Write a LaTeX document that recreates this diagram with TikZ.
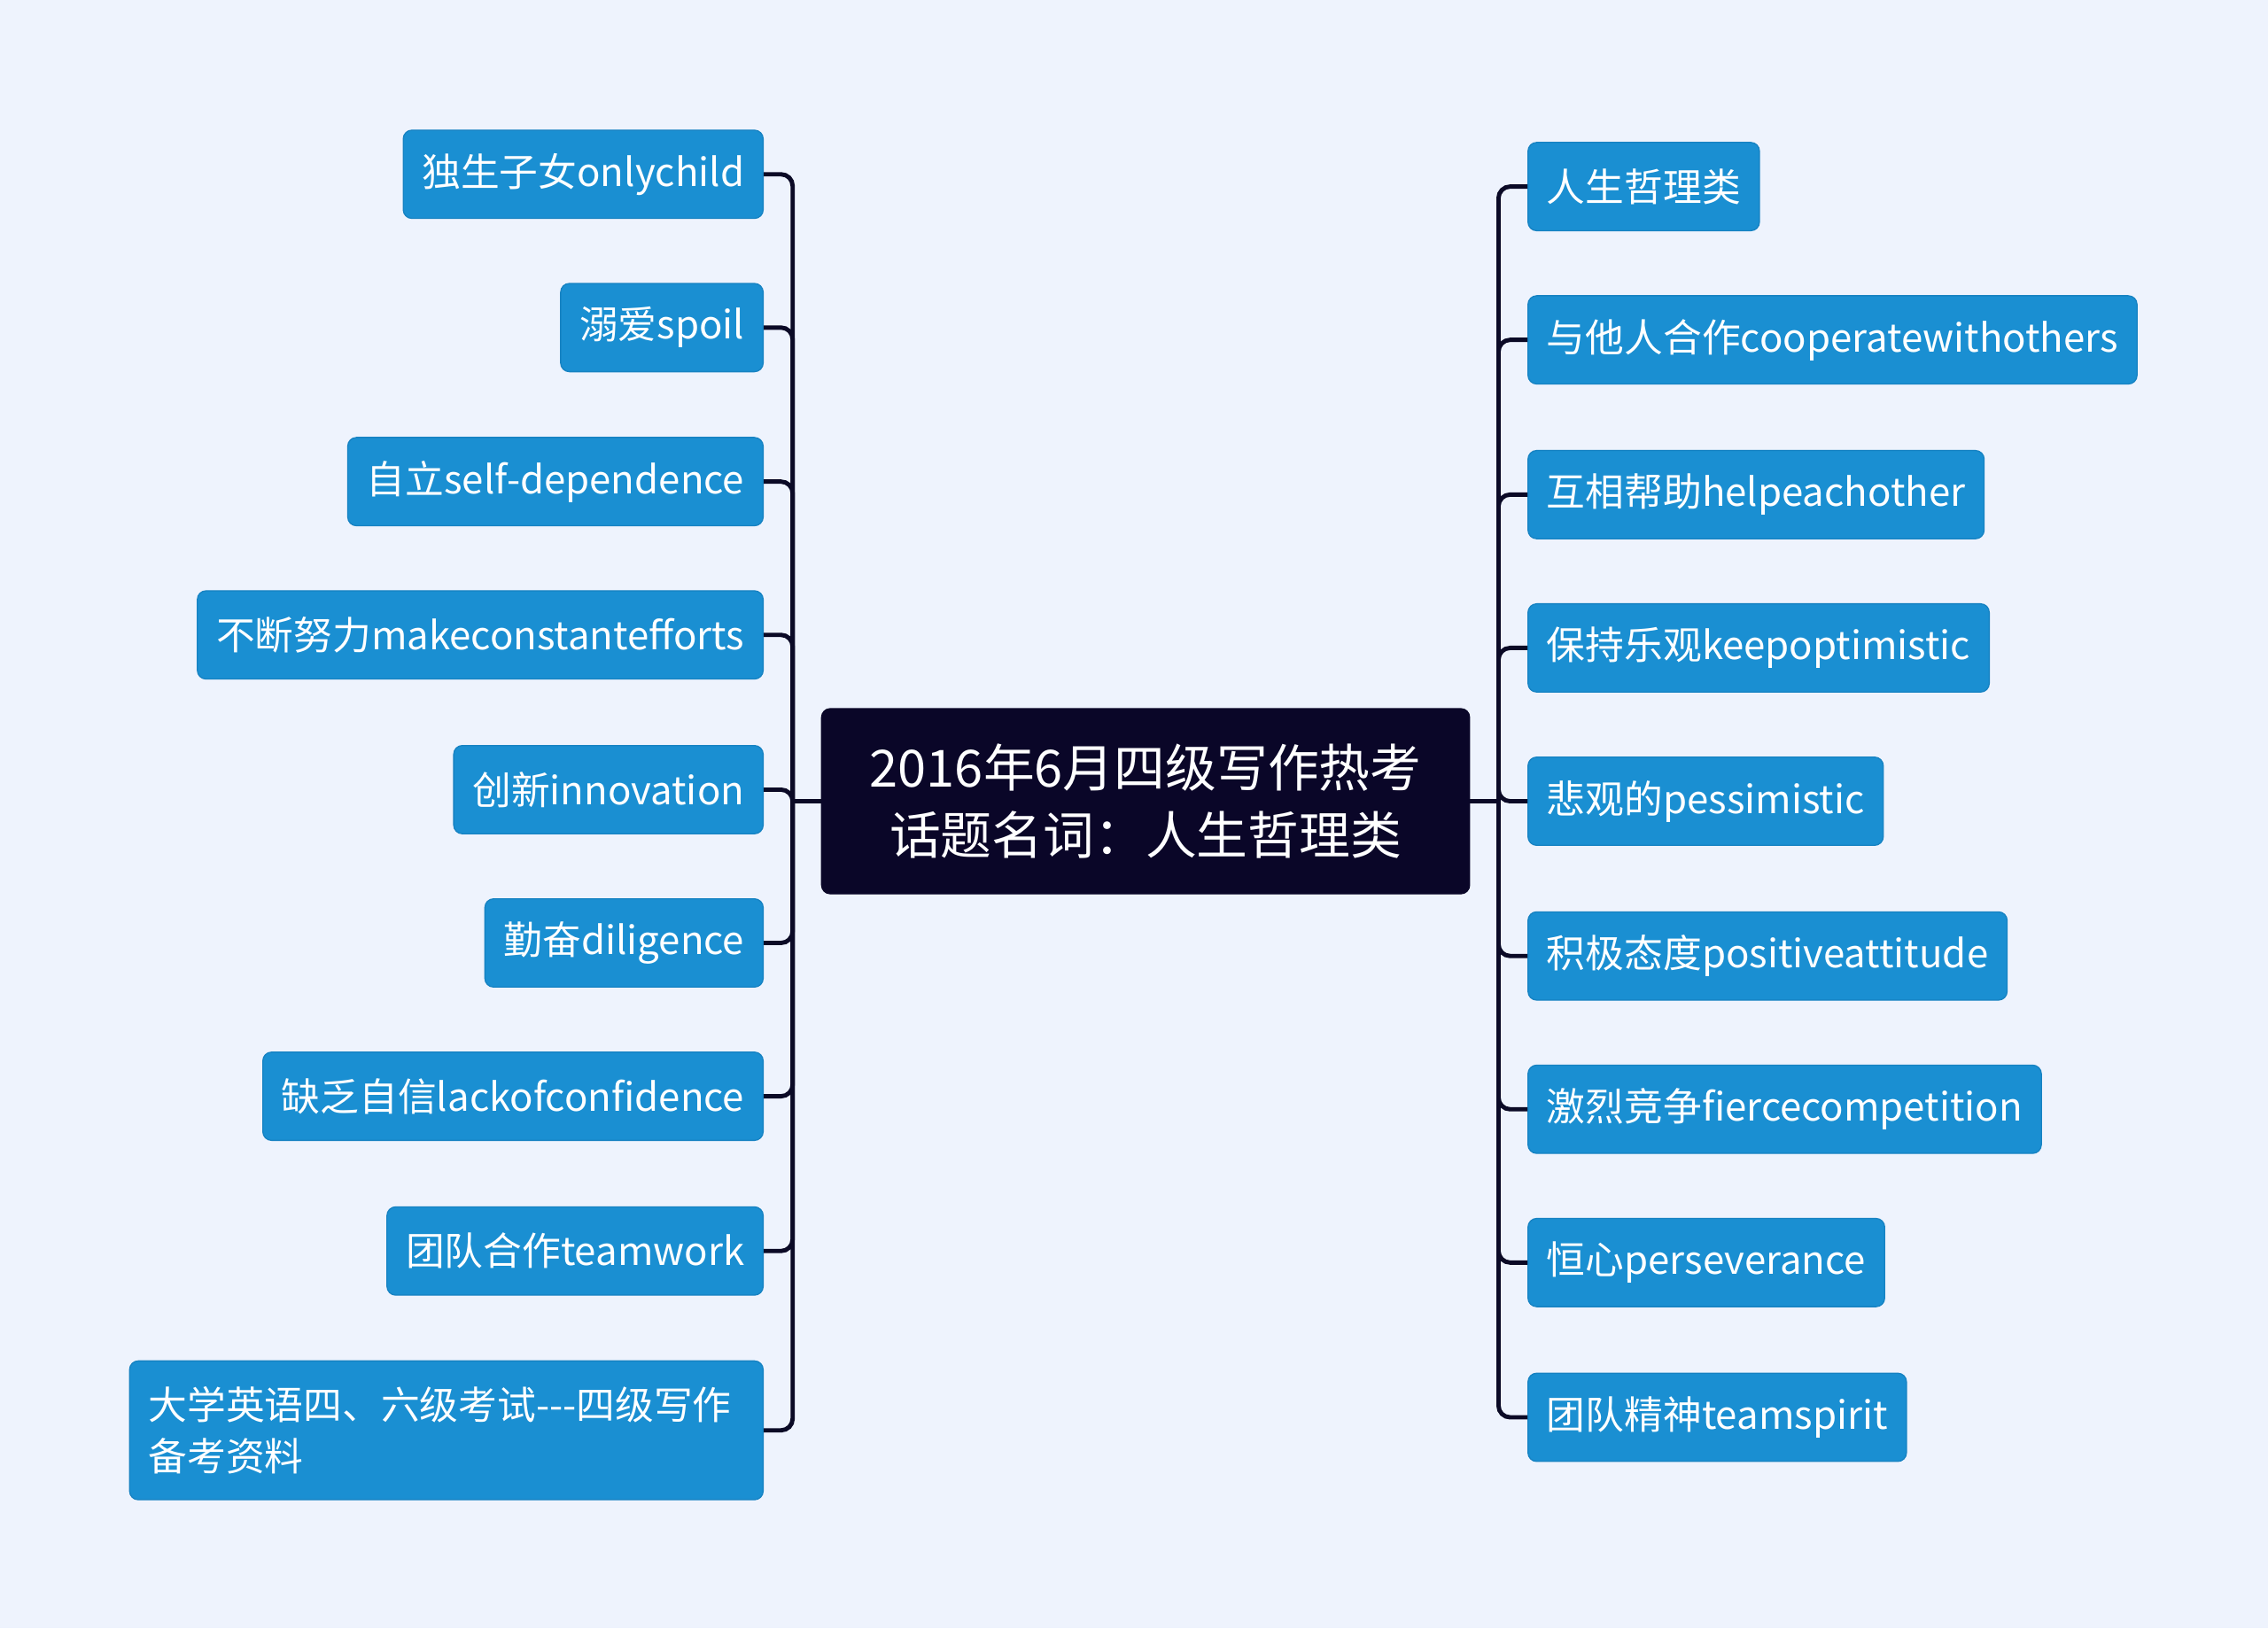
\documentclass[tikz,border=0pt]{standalone}
\usepackage{fontspec}
\setmainfont{Noto Sans CJK SC}
\usepackage{tikz}
\usetikzlibrary{positioning}
\definecolor{bgBlue}{HTML}{EEF3FD}
\definecolor{leafBlue}{HTML}{1A8FD2}
\definecolor{leafEdge}{HTML}{1682C2}
\definecolor{rootNavy}{HTML}{0A0628}
\definecolor{linkNavy}{HTML}{0B0A26}
\tikzset {
    style Root/.style={
        fill=rootNavy,
        draw=rootNavy,
        text=white,
        rectangle, % the central topic
        rounded corners=3pt,
        minimum width=224pt,
        minimum height=64pt,
        align=center,
        font=\fontsize{17.7pt}{23.5pt}\selectfont,
    },
    style Leaf/.style={
        fill=leafBlue,
        draw=leafEdge,
        thin,
        text=white,
        rectangle, % one entry
        rounded corners=3pt,
        inner xsep=6.5pt,
        minimum height=30.5pt,
        align=left,
        font=\fontsize{13.4pt}{17.5pt}\selectfont,
    },
    style Link/.style={
        draw=linkNavy,
        line width=1.5pt,
        rounded corners=4pt,
    },
}

\begin{document}
\begin{tikzpicture}[x=0.5pt, y=-0.5pt]
        \fill[bgBlue] (0,0) rectangle (1568,1126);
        \useasboundingbox (0,0) rectangle (1568,1126);

        \node[style Root] at (792, 554) (root) {2016年6月四级写作热考\\话题名词：人生哲理类};

        % left side
        \node[style Leaf, anchor=east] at (528, 120.5) (onlyChild) {独生子女onlychild};
        \node[style Leaf, anchor=east] at (528, 226.5) (spoil) {溺爱spoil};
        \node[style Leaf, anchor=east] at (528, 333) (selfDep) {自立self-dependence};
        \node[style Leaf, anchor=east] at (528, 439) (efforts) {不断努力makeconstantefforts};
        \node[style Leaf, anchor=east] at (528, 546) (innovation) {创新innovation};
        \node[style Leaf, anchor=east] at (528, 652) (diligence) {勤奋diligence};
        \node[style Leaf, anchor=east] at (528, 758) (noConf) {缺乏自信lackofconfidence};
        \node[style Leaf, anchor=east] at (528, 865) (teamwork) {团队合作teamwork};
        \node[style Leaf, anchor=east, minimum height=48pt, text width=206pt] at (528, 989) (cetWriting)
            {大学英语四、六级考试-{}-{}-四级写作\\备考资料};

        % right side
        \node[style Leaf, anchor=west] at (1056, 129) (philosophy) {人生哲理类};
        \node[style Leaf, anchor=west] at (1056, 235) (cooperate) {与他人合作cooperatewithothers};
        \node[style Leaf, anchor=west] at (1056, 342) (helpEach) {互相帮助helpeachother};
        \node[style Leaf, anchor=west] at (1056, 448) (optimistic) {保持乐观keepoptimistic};
        \node[style Leaf, anchor=west] at (1056, 554) (pessimistic) {悲观的pessimistic};
        \node[style Leaf, anchor=west] at (1056, 661) (attitude) {积极态度positiveattitude};
        \node[style Leaf, anchor=west] at (1056, 767) (competition) {激烈竞争fiercecompetition};
        \node[style Leaf, anchor=west] at (1056, 873) (perseverance) {恒心perseverance};
        \node[style Leaf, anchor=west] at (1056, 980) (teamSpirit) {团队精神teamspirit};

        \coordinate (leftJoin) at (548, 554);
        \coordinate (rightJoin) at (1036, 554);

        \draw[style Link] (root.west) -- (leftJoin);
        \draw[style Link] (root.east) -- (rightJoin);

        \draw[style Link] (leftJoin) |- (onlyChild.east);
        \draw[style Link] (leftJoin) |- (spoil.east);
        \draw[style Link] (leftJoin) |- (selfDep.east);
        \draw[style Link] (leftJoin) |- (efforts.east);
        \draw[style Link] (leftJoin) |- (innovation.east);
        \draw[style Link] (leftJoin) |- (diligence.east);
        \draw[style Link] (leftJoin) |- (noConf.east);
        \draw[style Link] (leftJoin) |- (teamwork.east);
        \draw[style Link] (leftJoin) |- (cetWriting.east);

        \draw[style Link] (rightJoin) |- (philosophy.west);
        \draw[style Link] (rightJoin) |- (cooperate.west);
        \draw[style Link] (rightJoin) |- (helpEach.west);
        \draw[style Link] (rightJoin) |- (optimistic.west);
        \draw[style Link] (rightJoin) |- (pessimistic.west);
        \draw[style Link] (rightJoin) |- (attitude.west);
        \draw[style Link] (rightJoin) |- (competition.west);
        \draw[style Link] (rightJoin) |- (perseverance.west);
        \draw[style Link] (rightJoin) |- (teamSpirit.west);
    \end{tikzpicture}
\end{document}
